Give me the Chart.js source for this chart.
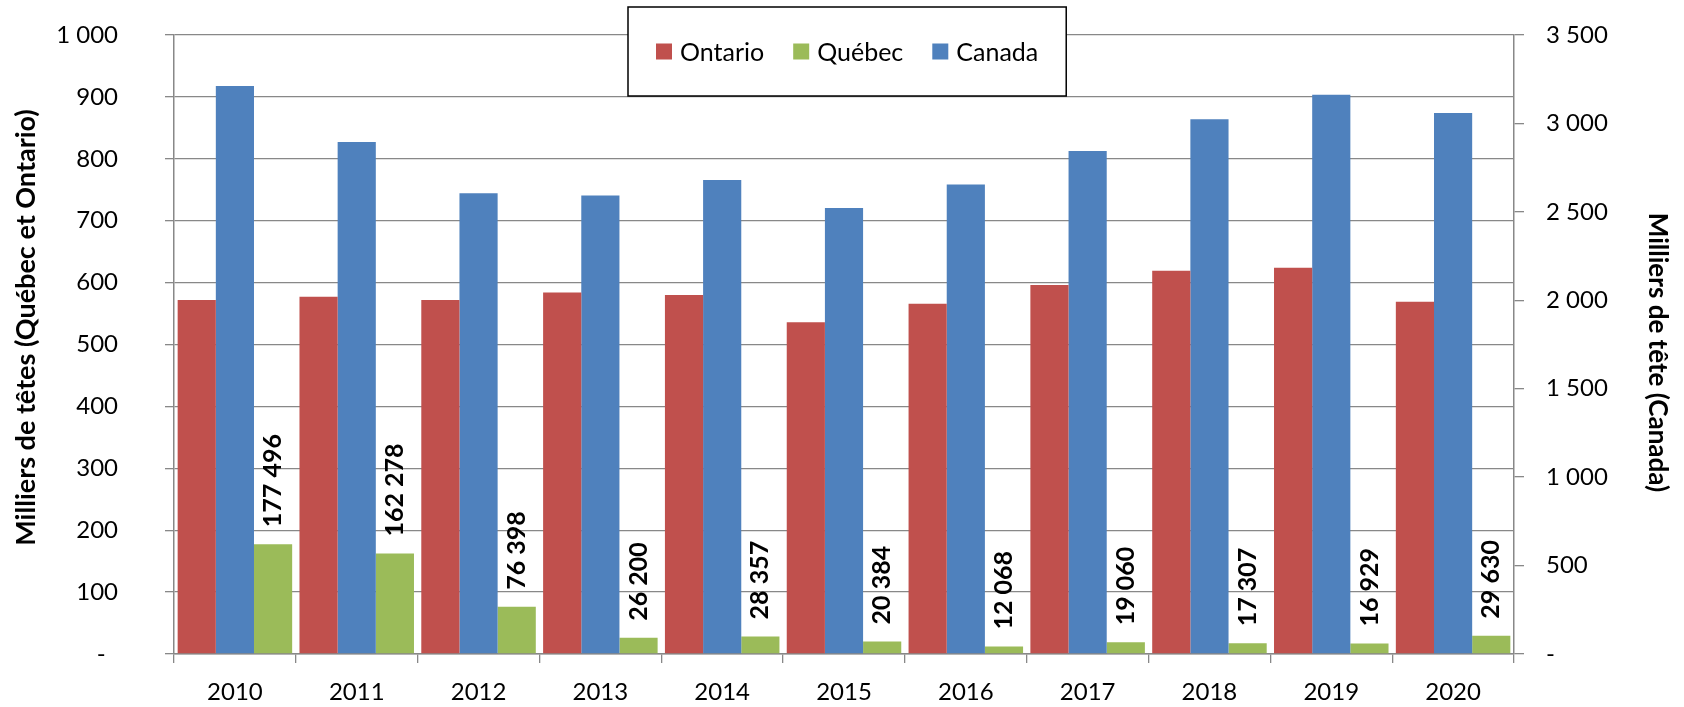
<!DOCTYPE html>
<html lang="fr">
<head>
<meta charset="utf-8">
<title>Cheptel bovin</title>
<script src="https://cdn.jsdelivr.net/npm/chart.js@4.4.1/dist/chart.umd.min.js"></script>
<style>
  html, body { margin: 0; padding: 0; background: #fff; }
  #wrap { width: 1684px; height: 707px; position: relative; }
</style>
</head>
<body>
<div id="wrap"><canvas id="chart"></canvas></div>
<script>
// Values, thousands of heads (Québec kept as raw head counts for its labels)
const years = ['2010', '2011', '2012', '2013', '2014', '2015', '2016', '2017', '2018', '2019', '2020'];
const ontario = [572, 577, 572, 584, 580, 536, 566, 596, 619, 624, 569];
const canada = [3212, 2895, 2605, 2592, 2680, 2522, 2654, 2844, 3023, 3162, 3059];
const quebecHeads = [177496, 162278, 76398, 26200, 28357, 20384, 12068, 19060, 17307, 16929, 29630];

const leftTicks = { min: 0, max: 1000, step: 100 };
const rightTicks = { min: 0, max: 3500, step: 500 };

const leftTitle = 'Milliers de têtes (Québec et Ontario)';
const rightTitle = 'Milliers de tête (Canada)';

const FONT = 'Lato';
const GRID = '#888888';

// 12345 -> "12 345"
function spaced(n) {
  return String(Math.round(n)).replace(/\B(?=(\d{3})+(?!\d))/g, ' ');
}

// fixed axis widths; drop the label overhang so the plot keeps its full height
function fixWidth(w) {
  return s => {
    s.width = w;
    s.paddingTop = 0;
    s.paddingBottom = 0;
  };
}

// Rotated head counts above each Québec bar
const quebecLabels = {
  id: 'quebecLabels',
  afterDatasetsDraw(chart) {
    const meta = chart.getDatasetMeta(2);
    const ctx = chart.ctx;
    ctx.save();
    ctx.font = `bold 25px ${FONT}`;
    ctx.fillStyle = '#000';
    ctx.textAlign = 'left';
    ctx.textBaseline = 'middle';
    meta.data.forEach((bar, i) => {
      ctx.save();
      ctx.translate(bar.x, bar.y - 17);
      ctx.rotate(-Math.PI / 2);
      ctx.fillText(spaced(quebecHeads[i]), 0, 0);
      ctx.restore();
    });
    ctx.restore();
  }
};

// Axis titles, set a little off the plot's middle like the Excel original
const axisTitles = {
  id: 'axisTitles',
  afterDraw(chart) {
    const ctx = chart.ctx;
    const area = chart.chartArea;
    const mid = (area.top + area.bottom) / 2;
    ctx.save();
    ctx.fillStyle = '#000';
    ctx.textAlign = 'center';
    ctx.textBaseline = 'middle';

    ctx.font = `bold 27px ${FONT}`;
    ctx.translate(chart.scales.y.left + 26, mid - 17);
    ctx.rotate(-Math.PI / 2);
    ctx.fillText(leftTitle, 0, 0);
    ctx.setTransform(1, 0, 0, 1, 0, 0);

    ctx.font = `bold 26px ${FONT}`;
    ctx.translate(chart.scales.y1.right - 27, mid + 8);
    ctx.rotate(Math.PI / 2);
    ctx.fillText(rightTitle, 0, 0);
    ctx.restore();
  }
};

// Boxed legend sitting over the top of the plot
const legendOrder = [0, 2, 1];
const legendBox = {
  id: 'legendBox',
  afterDraw(chart) {
    const ctx = chart.ctx;
    const area = chart.chartArea;
    const sets = legendOrder.map(i => chart.data.datasets[i]);
    const sw = 16, textGap = 8, itemGap = 29, padX = 28;
    ctx.save();
    ctx.font = `25px ${FONT}`;
    const widths = sets.map(ds => ctx.measureText(ds.label).width);
    const content = widths.reduce((s, w) => s + sw + textGap + w, 0) + itemGap * (sets.length - 1);
    const boxW = content + padX * 2;
    const boxH = 89;
    const x0 = Math.round((area.left + area.right) / 2 + 3 - boxW / 2);
    const y0 = 7;
    ctx.fillStyle = '#fff';
    ctx.fillRect(x0, y0, boxW, boxH);
    ctx.strokeStyle = '#000';
    ctx.lineWidth = 1.5;
    ctx.strokeRect(x0, y0, boxW, boxH);
    const yc = y0 + boxH / 2;
    let x = x0 + padX;
    sets.forEach((ds, k) => {
      ctx.fillStyle = ds.backgroundColor;
      ctx.fillRect(x, yc - sw / 2, sw, sw);
      x += sw + textGap;
      ctx.fillStyle = '#000';
      ctx.textBaseline = 'middle';
      ctx.textAlign = 'left';
      ctx.fillText(ds.label, x, yc + 1);
      x += widths[k] + itemGap;
    });
    ctx.restore();
  }
};

new Chart(document.getElementById('chart'), {
  type: 'bar',
  data: {
    labels: years,
    datasets: [
      { label: 'Ontario', data: ontario, backgroundColor: '#C0504D', yAxisID: 'y' },
      { label: 'Canada', data: canada, backgroundColor: '#4F81BD', yAxisID: 'y1' },
      { label: 'Québec', data: quebecHeads.map(v => v / 1000), backgroundColor: '#9BBB59', yAxisID: 'y' }
    ]
  },
  options: {
    responsive: true,
    maintainAspectRatio: false,
    animation: false,
    layout: { padding: { top: 35, left: 0, right: 0, bottom: 0 } },
    datasets: {
      bar: { categoryPercentage: 0.94, barPercentage: 1.0 }
    },
    plugins: {
      legend: { display: false },
      tooltip: { enabled: false }
    },
    scales: {
      x: {
        offset: true,
        afterFit: s => { s.height = 53; },
        grid: { offset: true, drawOnChartArea: false, drawTicks: true, tickLength: 9, color: GRID, lineWidth: 1.3 },
        border: { display: true, color: GRID, width: 1.5 },
        ticks: { color: '#000', padding: 15, font: { family: FONT, size: 24 } }
      },
      y: {
        position: 'left',
        min: leftTicks.min,
        max: leftTicks.max,
        afterFit: fixWidth(174),
        grid: { color: GRID, lineWidth: 1.3, tickLength: 9 },
        border: { display: true, color: GRID, width: 1.5 },
        ticks: {
          stepSize: leftTicks.step,
          color: '#000',
          padding: 47,
          font: { family: FONT, size: 24 },
          callback: v => (v === 0 ? '-  ' : spaced(v))
        }
      },
      y1: {
        position: 'right',
        min: rightTicks.min,
        max: rightTicks.max,
        afterFit: fixWidth(170),
        grid: { drawOnChartArea: false, drawTicks: true, tickLength: 10, color: GRID, lineWidth: 1.3 },
        border: { display: true, color: GRID, width: 1.5 },
        ticks: {
          stepSize: rightTicks.step,
          color: '#000',
          padding: 22,
          font: { family: FONT, size: 24 },
          callback: v => (v === 0 ? '-' : spaced(v))
        }
      }
    }
  },
  plugins: [quebecLabels, axisTitles, legendBox]
});
</script>
</body>
</html>
